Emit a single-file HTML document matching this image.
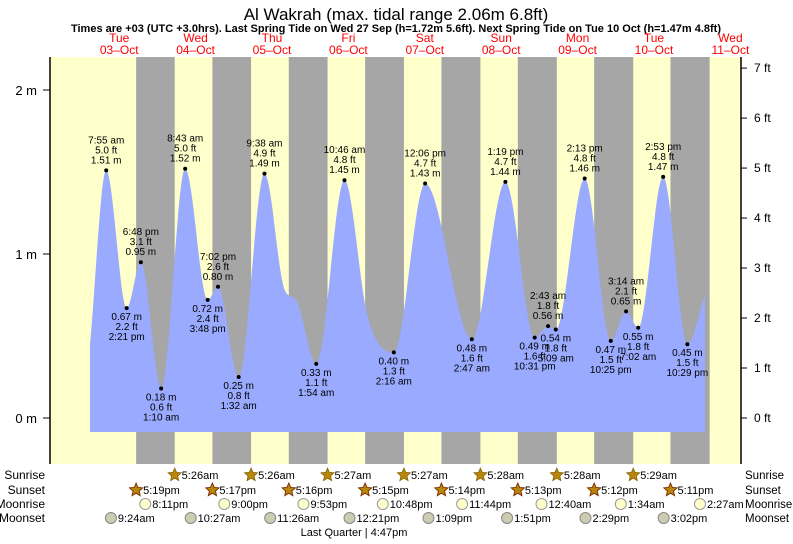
<!DOCTYPE html>
<html><head><meta charset="utf-8"><style>
body{margin:0;background:#fff;}
svg text{font-family:"Liberation Sans",Arial,sans-serif;}
</style></head><body>
<svg id="c" width="793" height="539" viewBox="0 0 793 539" xmlns="http://www.w3.org/2000/svg">
<text x="396" y="20" font-size="17" text-anchor="middle" fill="#000">Al Wakrah (max. tidal range 2.06m 6.8ft)</text>
<text x="396" y="32" font-size="11" font-weight="bold" text-anchor="middle" fill="#000">Times are +03 (UTC +3.0hrs). Last Spring Tide on Wed 27 Sep (h=1.72m 5.6ft). Next Spring Tide on Tue 10 Oct (h=1.47m 4.8ft)</text>
<g id="plot"></g>
</svg>
<script>
// ---- data ----
const tideHours = [2.83,7.92,14.35,18.8,25.17,32.72,39.8,43.03,49.53,57.63,64,67.5,73.9,82.77,90,98.27,108.1,122.78,133.32,142.52,146.72,149.15,158.22,166.42,171.23,175.03,182.88,190.48,196];
const tideHeights = [0.45,1.51,0.67,0.95,0.18,1.52,0.72,0.80,0.25,1.49,0.78,0.72,0.33,1.45,0.62,0.40,1.43,0.48,1.44,0.49,0.56,0.54,1.46,0.47,0.65,0.55,1.47,0.45,0.75];
const tideLabels = ["", "7:55 am","2:21 pm","6:48 pm","1:10 am","8:43 am","3:48 pm","7:02 pm","1:32 am","9:38 am","","","1:54 am","10:46 am","","2:16 am","12:06 pm","2:47 am","1:19 pm","10:31 pm","2:43 am","5:09 am","2:13 pm","10:25 pm","3:14 am","7:02 am","2:53 pm","10:29 pm",""];
const labelAbove = [0,1,0,1,0,1,0,1,0,1,0,0,0,1,0,0,1,0,1,0,1,0,1,0,1,0,1,0,0];
const dayNames = ["Tue","Wed","Thu","Fri","Sat","Sun","Mon","Tue","Wed"];
const dayDates = ["03–Oct","04–Oct","05–Oct","06–Oct","07–Oct","08–Oct","09–Oct","10–Oct","11–Oct"];
const sunsetHours = [17.32,41.28,65.27,89.25,113.23,137.22,161.2,185.18];
const sunriseHours = [29.43,53.43,77.45,101.45,125.47,149.47,173.48,197.48];
const sunriseText = ["5:26am","5:26am","5:27am","5:27am","5:28am","5:28am","5:29am"];
const sunsetText = ["5:19pm","5:17pm","5:16pm","5:15pm","5:14pm","5:13pm","5:12pm","5:11pm"];
const moonriseHours = [20.18,45,69.88,94.8,119.73,144.67,169.57,194.45];
const moonriseText = ["8:11pm","9:00pm","9:53pm","10:48pm","11:44pm","12:40am","1:34am","2:27am"];
const moonsetHours = [9.4,34.45,59.43,84.35,109.15,133.85,158.48,183.03];
const moonsetText = ["9:24am","10:27am","11:26am","12:21pm","1:09pm","1:51pm","2:29pm","3:02pm"];
const mTicks = [0,1,2];
const ftTicks = [0,1,2,3,4,5,6,7];

// ---- scales ----
const X0=81, PXH=76.4/24, L=50, R=741, T=57, B=464;
const xs=h=>X0+h*PXH;
const ys=m=>418-m*164;
const NS="http://www.w3.org/2000/svg";
const g=document.getElementById('plot');
function mk(tag,attrs,parent,txt){const e=document.createElementNS(NS,tag);for(const k in attrs)e.setAttribute(k,attrs[k]);if(txt!==undefined)e.textContent=txt;(parent||g).appendChild(e);return e;}

let bg=mk('rect',{x:L,y:T,width:R-L,height:B-T,fill:'#ffffcc'});


for(let i=0;i<sunsetHours.length;i++){
  const a=xs(sunsetHours[i]), b=Math.min(xs(sunriseHours[i]),R);
  const r=mk('rect',{x:a,y:T,width:b-a,height:B-T,fill:'#a6a6a6'});
  
  
}
for(let i=0;i<dayNames.length;i++){
  const x=xs(12+24*i);
  const t1=mk('text',{x:x,y:42,'font-size':12,'text-anchor':'middle',fill:'#ff0000'},g,dayNames[i]);
  
  
  const t2=mk('text',{x:x,y:54,'font-size':12,'text-anchor':'middle',fill:'#ff0000'},g,dayDates[i]);
  
  
}
function pchip(xa,ya){
  const n=xa.length,d=[],m=[];
  for(let i=0;i<n-1;i++)d.push((ya[i+1]-ya[i])/(xa[i+1]-xa[i]));
  m[0]=d[0];m[n-1]=d[n-2];
  for(let i=1;i<n-1;i++){m[i]=(d[i-1]*d[i]<=0)?0:(d[i-1]+d[i])/2;}
  for(let i=0;i<n-1;i++){if(d[i]===0){m[i]=m[i+1]=0;continue;}const a=m[i]/d[i],b=m[i+1]/d[i],s=a*a+b*b;if(s>9){const t=3/Math.sqrt(s);m[i]=t*a*d[i];m[i+1]=t*b*d[i];}}
  return x=>{let i=0;while(i<n-2&&x>xa[i+1])i++;const h=xa[i+1]-xa[i],t=(x-xa[i])/h,t2=t*t,t3=t2*t;
    return (2*t3-3*t2+1)*ya[i]+(t3-2*t2+t)*h*m[i]+(-2*t3+3*t2)*ya[i+1]+(t3-t2)*h*m[i+1];};
}
const f=pchip(tideHours,tideHeights);
const h0=tideHours[0],h1=tideHours[tideHours.length-1];
let dstr=`M${xs(h0)},${ys(-0.085)}`;
for(let h=h0;h<=h1;h+=0.25)dstr+=` L${xs(h).toFixed(1)},${ys(f(h)).toFixed(1)}`;
dstr+=` L${xs(h1)},${ys(f(h1))} L${xs(h1)},${ys(-0.085)} Z`;
const area=mk('path',{d:dstr,fill:'#99aaff'});


for(let i=0;i<tideHours.length;i++){
  if(!tideLabels[i])continue;
  const x=xs(tideHours[i]),y=ys(tideHeights[i]),hm=tideHeights[i];
  const c=mk('circle',{cx:x,cy:y,r:2,fill:'#000'});
  
  
  const lines=[hm.toFixed(2)+' m',(hm/0.3048).toFixed(1)+' ft',tideLabels[i]];
  const arr=labelAbove[i]?[lines[2],lines[1],lines[0]]:lines;
  const base=labelAbove[i]?y-27:y+12;
  arr.forEach((s,k)=>{
    const t=mk('text',{x:x,y:base+k*10,'font-size':10,'text-anchor':'middle',fill:'#000'},g,s);
    
    
  });
}
const ax=mk('line',{x1:L,y1:T,x2:L,y2:B,stroke:'#000','stroke-width':1.5});


const ax2=mk('line',{x1:R,y1:T,x2:R,y2:B,stroke:'#000','stroke-width':1.5});


mTicks.forEach(v=>{
  const y=ys(v);
  mk('line',{x1:L-7,y1:y,x2:L,y2:y,stroke:'#000'});
  const t=mk('text',{x:37,y:y+5,'font-size':13,'text-anchor':'end'},g,v+' m');
  
  
});
ftTicks.forEach(v=>{
  const y=ys(v*0.3048);
  mk('line',{x1:R,y1:y,x2:R+6,y2:y,stroke:'#000'});
  const t=mk('text',{x:754,y:y+4,'font-size':12},g,v+' ft');
  
  
});
const rows=[['Sunrise',475],['Sunset',490],['Moonrise',504],['Moonset',518]];
rows.forEach(r=>{
  const a=mk('text',{x:45,y:r[1]+4,'font-size':12,'text-anchor':'end'},g,r[0]);
  
  
  const b=mk('text',{x:745,y:r[1]+4,'font-size':11.5},g,r[0]);
  
  
});
function star(cx,cy){let p='';for(let k=0;k<10;k++){const a=-Math.PI/2+k*Math.PI/5,rr=k%2?3.2:7;p+=(cx+rr*Math.cos(a)).toFixed(1)+','+(cy+rr*Math.sin(a)).toFixed(1)+' ';}return p;}
function iconRow(hours,texts,y,kind){
  hours.forEach((h,i)=>{
    if(i>=texts.length)return;
    const x=xs(h);
    let ic;
    if(kind==='sunrise')ic=mk('polygon',{points:star(x,y),fill:'#b8860b',stroke:'#806000','stroke-width':0.7});
    else if(kind==='sunset')ic=mk('polygon',{points:star(x,y),fill:'#b8860b',stroke:'#7a2a00','stroke-width':0.9});
    else if(kind==='moonrise')ic=mk('circle',{cx:x,cy:y,r:5.5,fill:'#ffffcc',stroke:'#999'});
    else ic=mk('circle',{cx:x,cy:y,r:5.5,fill:'#ccccb0',stroke:'#888'});
    
    
    const t=mk('text',{x:x+7,y:y+4,'font-size':11},g,texts[i]);
    
    
  });
}
iconRow(sunriseHours,sunriseText,475,'sunrise');
iconRow(sunsetHours,sunsetText,490,'sunset');
iconRow(moonriseHours,moonriseText,504,'moonrise');
iconRow(moonsetHours,moonsetText,518,'moonset');
const lq=mk('text',{x:354,y:536,'font-size':11,'text-anchor':'middle'},g,'Last Quarter | 4:47pm');


</script>
</body></html>
